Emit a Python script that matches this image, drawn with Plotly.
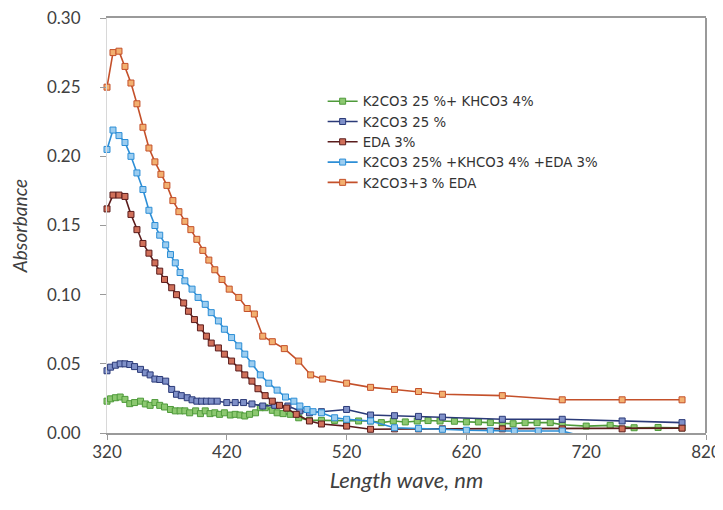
import plotly.graph_objects as go

# ---- data ----
green_x = [320, 323, 327, 331, 335, 339, 343, 348, 352, 356, 360, 364, 368, 373, 377, 381, 385, 389, 394, 398,
           402, 406, 410, 414, 418, 423, 427, 431, 435, 439, 444, 448, 452, 458, 462, 467, 473, 480, 489, 499,
           510, 520, 530, 540, 549, 559, 569, 579, 588, 598, 610, 620, 630, 640, 650, 659, 669, 679, 690, 700,
           720, 740, 760, 780, 800]
green_y = [0.023, 0.0247, 0.0255, 0.026, 0.0243, 0.0212, 0.022, 0.023, 0.021, 0.020, 0.022, 0.020, 0.0188, 0.017,
           0.016, 0.016, 0.016, 0.0146, 0.016, 0.014, 0.016, 0.014, 0.0146, 0.0135, 0.0146, 0.013, 0.0135, 0.013,
           0.0123, 0.0135, 0.0146, 0.0183, 0.0183, 0.0164, 0.0146, 0.014, 0.0135, 0.011, 0.0091, 0.0091, 0.0091,
           0.009, 0.0087, 0.0087, 0.0075, 0.0087, 0.008, 0.0087, 0.009, 0.0087, 0.0085, 0.008, 0.008, 0.0075,
           0.007, 0.0067, 0.0075, 0.0075, 0.0075, 0.006, 0.005, 0.0055, 0.0038, 0.004, 0.0038]

navy_x = [320, 323, 327, 331, 335, 339, 343, 348, 352, 356, 360, 364, 369, 374, 378, 382, 387, 391, 395, 399,
          403, 407, 412, 420, 427, 434, 441, 450, 460, 471, 481, 489, 499, 520, 540, 560, 580, 600, 650, 700,
          750, 800]
navy_y = [0.045, 0.0476, 0.049, 0.050, 0.050, 0.0495, 0.048, 0.046, 0.0435, 0.042, 0.039, 0.0387, 0.0375, 0.0315,
          0.028, 0.027, 0.0255, 0.024, 0.023, 0.023, 0.023, 0.023, 0.023, 0.022, 0.022, 0.022, 0.021, 0.0195,
          0.020, 0.0195, 0.016, 0.0146, 0.0154, 0.017, 0.013, 0.0125, 0.012, 0.0115, 0.0099, 0.0099, 0.0087,
          0.0075]

eda_x = [320, 325, 330, 335, 340, 345, 350, 355, 360, 364, 368, 374, 378, 384, 388, 393, 398, 403, 407, 413,
         418, 424, 430, 435, 441, 446, 452, 458, 464, 470, 478, 489, 499, 520, 540, 560, 580, 600, 650, 700,
         750, 800]
eda_y = [0.162, 0.172, 0.172, 0.171, 0.158, 0.147, 0.137, 0.130, 0.123, 0.117, 0.111, 0.105, 0.100, 0.094, 0.088,
         0.082, 0.076, 0.070, 0.065, 0.0615, 0.057, 0.052, 0.047, 0.042, 0.0375, 0.032, 0.027, 0.023, 0.020,
         0.018, 0.0135, 0.0087, 0.0065, 0.005, 0.0027, 0.003, 0.003, 0.003, 0.003, 0.003, 0.003, 0.0035]

blue_x = [320, 325, 330, 335, 340, 345, 350, 355, 360, 364, 369, 373, 377, 381, 385, 391, 396, 402, 407, 413,
          418, 424, 430, 435, 441, 448, 455, 462, 469, 476, 481, 487, 492, 499, 510, 520, 540, 560, 580, 600,
          620, 640, 660, 680, 700, 720, 740, 760, 800]
blue_y = [0.205, 0.219, 0.215, 0.210, 0.200, 0.188, 0.176, 0.161, 0.150, 0.143, 0.136, 0.129, 0.123, 0.116, 0.110,
          0.104, 0.098, 0.093, 0.087, 0.081, 0.075, 0.069, 0.063, 0.057, 0.050, 0.042, 0.036, 0.031, 0.026, 0.023,
          0.0195, 0.017, 0.0154, 0.0146, 0.011, 0.0099, 0.0087, 0.0038, 0.0034, 0.0027, 0.002, 0.0015, 0.0014,
          0.0014, 0.0014, -0.003, -0.001, -0.001, -0.001]

orange_x = [320, 325, 330, 335, 340, 345, 350, 355, 360, 365, 370, 375, 380, 385, 390, 395, 400, 405, 410, 416,
            422, 430, 437, 443, 450, 458, 468, 480, 490, 500, 520, 540, 560, 580, 600, 650, 700, 750, 800]
orange_y = [0.250, 0.275, 0.276, 0.265, 0.253, 0.238, 0.221, 0.206, 0.196, 0.187, 0.179, 0.168, 0.160, 0.153,
            0.147, 0.140, 0.132, 0.125, 0.118, 0.111, 0.104, 0.098, 0.090, 0.086, 0.070, 0.066, 0.061, 0.052,
            0.042, 0.039, 0.036, 0.033, 0.0315, 0.030, 0.028, 0.027, 0.024, 0.024, 0.024]

names = ["K2CO3 25 %+ KHCO3 4%", "K2CO3 25 %", "EDA 3%", "K2CO3 25% +KHCO3 4% +EDA 3%", "K2CO3+3 % EDA"]
x_ticks = [320, 420, 520, 620, 720, 820]
y_ticks = [0.00, 0.05, 0.10, 0.15, 0.20, 0.25, 0.30]

series = [
    (green_x, green_y, "#4e9a3a", "#8cc870"),
    (navy_x, navy_y, "#2b3a78", "#7f90c8"),
    (eda_x, eda_y, "#5a1c1c", "#d0705a"),
    (blue_x, blue_y, "#2c8ed6", "#9ccdf0"),
    (orange_x, orange_y, "#c4502a", "#f2b070"),
]

fig = go.Figure()
for (xs, ys, lc, mc), nm in zip(series, names):
    fig.add_trace(go.Scatter(
        x=xs, y=ys, name=nm, mode="lines+markers",
        line=dict(color=lc, width=1.6),
        marker=dict(symbol="square", size=6, color=mc, line=dict(color=lc, width=1)),
        cliponaxis=False,
    ))

tick_font = dict(family="Lato, Carlito, sans-serif", size=17, color="#404040")

# The page body has an 8px default margin, so the figure is 8px smaller and
# its margins are reduced on the left/top to land the plot area in place.
fig.update_layout(
    width=715, height=502,
    margin=dict(l=99, r=17, t=10, b=77),
    paper_bgcolor="white", plot_bgcolor="white",
    showlegend=True,
    legend=dict(x=0.36, y=0.836, xanchor="left", yanchor="top",
                font=dict(family="DejaVu Sans, sans-serif", size=13.3, color="#333333"),
                bgcolor="rgba(255,255,255,0)", itemwidth=30, tracegroupgap=0),
    xaxis=dict(range=[320, 820], tickvals=x_ticks, ticktext=[str(v) for v in x_ticks],
               showgrid=False, zeroline=False, showline=True, mirror=True, automargin=False,
               linecolor="#9a9a9a", linewidth=2, ticks="outside", ticklen=5, tickcolor="#9a9a9a",
               tickfont=tick_font, ticklabelstandoff=-2, ticklabeloverflow="allow",
               title=dict(text="<i>Length wave, nm</i>",
                          font=dict(family="Lato, sans-serif", size=22, color="#404040"), standoff=11)),
    yaxis=dict(range=[0, 0.30], tickvals=y_ticks, ticktext=["%.2f" % v for v in y_ticks],
               showgrid=False, zeroline=False, showline=True, linecolor="#d8d8d8", linewidth=1,
               automargin=False,
               ticks="outside", ticklen=6, tickcolor="#9a9a9a",
               tickfont=tick_font, ticklabelstandoff=16, ticklabeloverflow="allow",
               title=dict(text="<i>Absorbance</i>",
                          font=dict(family="Lato, sans-serif", size=19, color="#404040"), standoff=14)),
    shapes=[dict(type="line", xref="paper", yref="paper", x0=1, x1=1, y0=0, y1=1,
                 line=dict(color="#9a9a9a", width=2))],
)

fig.write_html("out.html")
